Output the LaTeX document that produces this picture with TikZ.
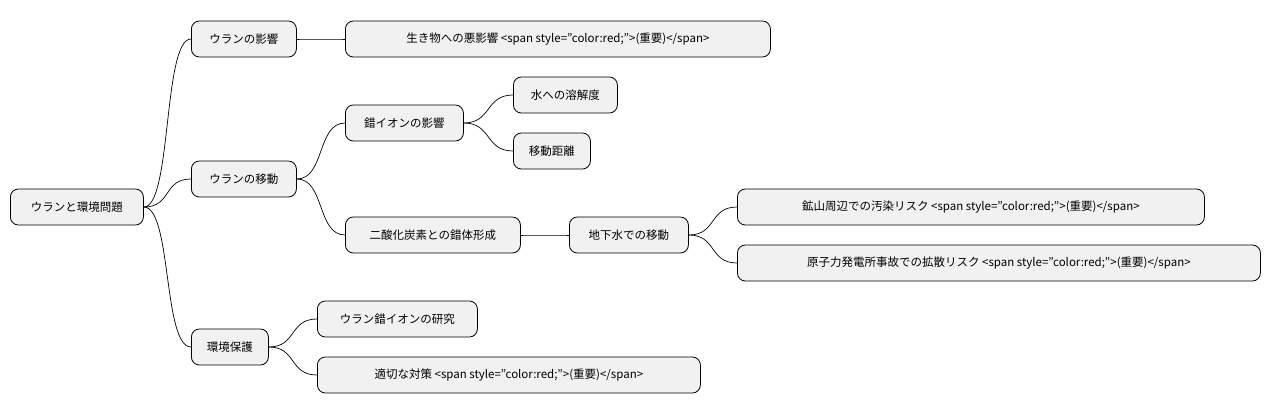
\documentclass[tikz,border=0pt]{standalone}
\usepackage{fontspec}
\setmainfont{Noto Sans CJK JP}
\begin{document}
\begin{tikzpicture}[x=1pt,y=-1pt,
  box/.style={draw=black,line width=0.8pt,fill={rgb,255:red,241;green,241;blue,241},rounded corners=8pt,
    minimum height=36pt,anchor=west,inner xsep=0pt,font=\fontsize{11.5}{13}\selectfont},
  conn/.style={draw=black,line width=0.7pt}]
\useasboundingbox (0,0) rectangle (1271,415);
\newcommand{\bx}[5]{\node[box,minimum width=#3pt] (#1) at (#2,#4) {#5};}
\bx{r}{10}{133}{207}{ウランと環境問題}
\bx{a}{191}{105}{39}{ウランの影響}
\bx{a1}{345}{425}{39}{生き物への悪影響 <span style="color:red;">(重要)</span>}
\bx{b}{191}{105}{179}{ウランの移動}
\bx{b1}{345}{118}{123}{錯イオンの影響}
\bx{b11}{513}{104}{95}{水への溶解度}
\bx{b12}{513}{77}{151}{移動距離}
\bx{b2}{345}{175}{235}{二酸化炭素との錯体形成}
\bx{b21}{569}{119}{235}{地下水での移動}
\bx{b211}{737}{467}{207}{鉱山周辺での汚染リスク <span style="color:red;">(重要)</span>}
\bx{b212}{737}{523}{263}{原子力発電所事故での拡散リスク <span style="color:red;">(重要)</span>}
\bx{c}{191}{77}{347}{環境保護}
\bx{c1}{317}{160}{319}{ウラン錯イオンの研究}
\bx{c2}{317}{383}{375}{適切な対策 <span style="color:red;">(重要)</span>}
\foreach \p/\c in {r/a,r/b,r/c,a/a1,b/b1,b/b2,b1/b11,b1/b12,b2/b21,b21/b211,b21/b212,c/c1,c/c2}{
  \draw[conn] (\p.east) .. controls +(28,0) and +(-28,0) .. (\c.west);
}
\end{tikzpicture}
\end{document}
